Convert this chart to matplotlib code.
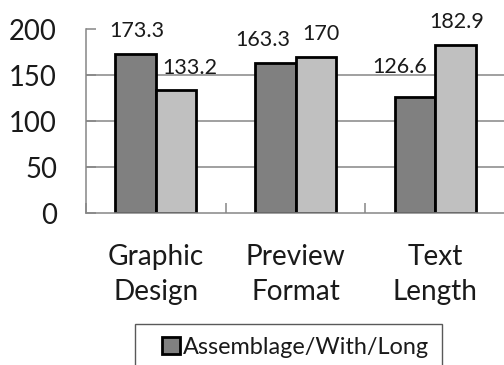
import numpy as np
import matplotlib.pyplot as plt
from matplotlib.patches import Rectangle

plt.rcParams['font.family'] = ['Lato', 'DejaVu Sans']

categories = ['Graphic\nDesign', 'Preview\nFormat', 'Text\nLength']
with_long = [173.3, 163.3, 126.6]
other = [133.2, 170, 182.9]
legend_label = 'Assemblage/With/Long'

# nudges (pixels) for the value labels so they don't collide
dark_offsets = [(1, 17), (-12, 17), (-15, 24)]
light_offsets = [(14, 16), (5, 17), (1, 17)]

fig = plt.figure(figsize=(5.04, 3.65), dpi=100)
ax = fig.add_axes([86 / 504, 1 - 213 / 365, 419 / 504, 184 / 365])

x = np.arange(len(categories))
w = 0.29
grey = '#868686'

ax.set_ylim(0, 200)
ax.set_xlim(-0.5, len(categories) - 0.5)
for yv in [50, 100, 150]:
    ax.axhline(yv, color=grey, lw=1.1, zorder=0)

b1 = ax.bar(x - w / 2, with_long, w, color='#808080', edgecolor='black', lw=2.0, zorder=2)
b2 = ax.bar(x + w / 2, other, w, color='#c0c0c0', edgecolor='black', lw=2.0, zorder=2)

def px(p):
    return p * 0.72

for bars, vals, offs in [(b1, with_long, dark_offsets), (b2, other, light_offsets)]:
    for rect, v, (dx, dy) in zip(bars, vals, offs):
        ax.annotate(f'{v:g}', (rect.get_x() + rect.get_width() / 2, v),
                    xytext=(px(dx), px(dy)), textcoords='offset points',
                    ha='center', va='baseline', fontsize=px(21.5), color='#1a1a1a')

for s in ['top', 'right']:
    ax.spines[s].set_visible(False)
ax.spines['left'].set_color(grey)
ax.spines['bottom'].set_color(grey)
ax.spines['left'].set_linewidth(1.1)
ax.spines['bottom'].set_linewidth(1.1)

ax.set_yticks([0, 50, 100, 150, 200])
ax.tick_params(axis='y', direction='in', length=px(10), color=grey, width=1.1,
               pad=px(29), labelsize=px(27.5), labelcolor='#1a1a1a')

# category ticks sit on the group boundaries, labels at group centers
ax.set_xticks(np.arange(len(categories) + 1) - 0.5)
ax.set_xticklabels([])
ax.set_xticks(x, minor=True)
ax.set_xticklabels(categories, minor=True, fontsize=px(28), linespacing=1.42, color='#1a1a1a')
ax.tick_params(axis='x', which='major', direction='in', length=px(10), color=grey, width=1.1)
ax.tick_params(axis='x', which='minor', length=0, pad=px(31))

fig.add_artist(Rectangle((135 / 504, -0.1), (442 - 135) / 504, 0.1 + 1 - 324 / 365,
                         transform=fig.transFigure, fill=False, edgecolor='#595959', lw=1.0))
fig.legend([b1], [legend_label], loc='center left', bbox_to_anchor=(162 / 504, 1 - 347 / 365),
           frameon=False, fontsize=px(23.5), borderpad=0, borderaxespad=0,
           handlelength=0.76, handleheight=0.76, handletextpad=0.15, labelcolor='#1a1a1a')

fig.savefig('out.png', dpi=100)
